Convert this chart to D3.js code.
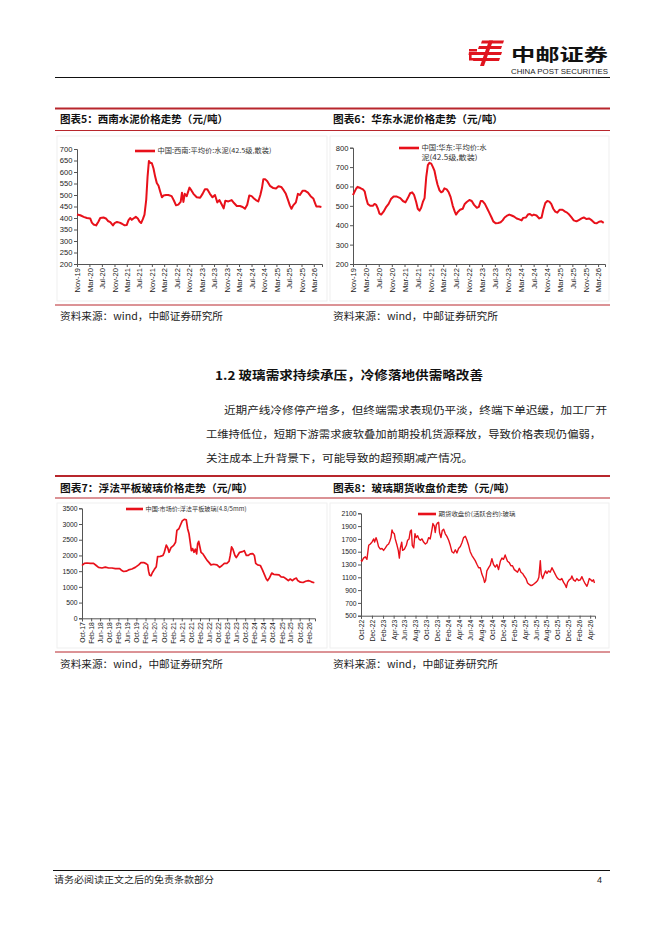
<!DOCTYPE html>
<html><head><meta charset="utf-8">
<script src="https://cdn.jsdelivr.net/npm/d3@7"></script>
<style>
html,body{margin:0;padding:0;background:#fff;}
svg{display:block;}
</style></head>
<body>
<svg id="page" width="662" height="936"></svg>
<script>
// ---------------- DATA ----------------
const chartTitles = ["图表5：西南水泥价格走势（元/吨）","图表6：华东水泥价格走势（元/吨）","图表7：浮法平板玻璃价格走势（元/吨）","图表8：玻璃期货收盘价走势（元/吨）"];
const sourceText = "资料来源：wind，中邮证券研究所";
const legendNames = ["中国:西南:平均价:水泥(42.5级,散装)", ["中国:华东:平均价:水","泥(42.5级,散装)"], "中国:市场价:浮法平板玻璃(4.8/5mm)", "期货收盘价(活跃合约):玻璃"];
const sectionTitle = "1.2 玻璃需求持续承压，冷修落地供需略改善";
const paragraphLines = ["近期产线冷修停产增多，但终端需求表现仍平淡，终端下单迟缓，加工厂开","工维持低位，短期下游需求疲软叠加前期投机货源释放，导致价格表现仍偏弱，","关注成本上升背景下，可能导致的超预期减产情况。"];
const footerText = "请务必阅读正文之后的免责条款部分";
const pageNumber = "4";

const xTicks5 = ["Nov-19","Mar-20","Jul-20","Nov-20","Mar-21","Jul-21","Nov-21","Mar-22","Jul-22","Nov-22","Mar-23","Jul-23","Nov-23","Mar-24","Jul-24","Nov-24","Mar-25","Jul-25","Nov-25","Mar-26"];
const xTicks6 = xTicks5.slice();
const xTicks7 = ["Oct-17","Feb-18","Jun-18","Oct-18","Feb-19","Jun-19","Oct-19","Feb-20","Jun-20","Oct-20","Feb-21","Jun-21","Oct-21","Feb-22","Jun-22","Oct-22","Feb-23","Jun-23","Oct-23","Feb-24","Jun-24","Oct-24","Feb-25","Jun-25","Oct-25","Feb-26"];
const xTicks8 = ["Oct-22","Dec-22","Feb-23","Apr-23","Jun-23","Aug-23","Oct-23","Dec-23","Feb-24","Apr-24","Jun-24","Aug-24","Oct-24","Dec-24","Feb-25","Apr-25","Jun-25","Aug-25","Oct-25","Dec-25","Feb-26","Apr-26"];
const yTicks5 = [200,250,300,350,400,450,500,550,600,650,700];
const yTicks6 = [200,300,400,500,600,700,800];
const yTicks7 = [0,500,1000,1500,2000,2500,3000,3500];
const yTicks8 = [500,700,900,1100,1300,1500,1700,1900,2100];

const cementSW = [["2019-11-01",415],["2019-12-03",412],["2020-01-05",405],["2020-02-06",400],["2020-03-09",398],["2020-03-25",380],["2020-04-10",372],["2020-05-06",368],["2020-05-29",385],["2020-06-15",400],["2020-07-17",402],["2020-08-09",398],["2020-08-29",387],["2020-09-21",382],["2020-10-17",368],["2020-11-02",378],["2020-11-25",383],["2020-12-21",380],["2021-01-13",375],["2021-02-08",368],["2021-03-01",370],["2021-03-17",390],["2021-04-03",400],["2021-04-19",392],["2021-05-05",398],["2021-05-28",405],["2021-06-17",398],["2021-07-03",385],["2021-07-19",378],["2021-08-05",395],["2021-08-21",415],["2021-09-07",480],["2021-09-20",580],["2021-10-03",648],["2021-10-16",640],["2021-11-01",638],["2021-11-17",615],["2021-12-03",580],["2021-12-19",552],["2022-01-05",540],["2022-01-21",515],["2022-02-07",490],["2022-02-23",498],["2022-03-19",500],["2022-04-11",500],["2022-05-13",495],["2022-06-05",475],["2022-06-25",455],["2022-07-17",458],["2022-08-09",470],["2022-08-22",510],["2022-09-05",470],["2022-09-18",505],["2022-10-07",495],["2022-11-03",532],["2022-11-22",520],["2022-12-12",505],["2023-01-13",490],["2023-02-15",488],["2023-03-11",505],["2023-04-03",525],["2023-04-26",525],["2023-05-22",505],["2023-06-16",490],["2023-07-10",500],["2023-08-02",468],["2023-08-22",478],["2023-09-13",460],["2023-10-03",442],["2023-10-19",475],["2023-11-18",472],["2023-12-20",478],["2024-01-12",465],["2024-02-08",452],["2024-03-10",452],["2024-04-05",448],["2024-04-28",440],["2024-05-20",458],["2024-06-09",498],["2024-07-02",495],["2024-07-25",485],["2024-08-13",478],["2024-09-05",472],["2024-09-25",500],["2024-10-11",530],["2024-10-24",568],["2024-11-13",568],["2024-12-02",560],["2024-12-28",540],["2025-01-30",530],["2025-02-25",528],["2025-03-21",538],["2025-04-17",535],["2025-05-12",520],["2025-06-01",505],["2025-06-21",480],["2025-07-10",455],["2025-07-26",440],["2025-08-12",455],["2025-09-07",468],["2025-09-27",505],["2025-10-16",500],["2025-11-11",518],["2025-12-07",518],["2026-01-03",510],["2026-01-29",495],["2026-02-24",485],["2026-03-13",465],["2026-03-26",450],["2026-04-22",450],["2026-05-14",448]];

const cementEC = [["2019-11-01",555],["2019-11-13",570],["2019-12-02",590],["2019-12-14",598],["2020-01-09",592],["2020-02-03",585],["2020-02-19",575],["2020-03-04",540],["2020-03-20",510],["2020-04-11",500],["2020-05-06",500],["2020-05-22",510],["2020-06-07",505],["2020-06-23",485],["2020-07-08",460],["2020-07-24",455],["2020-08-15",470],["2020-09-10",495],["2020-10-02",510],["2020-10-24",535],["2020-11-18",548],["2020-12-19",548],["2021-01-20",540],["2021-02-14",525],["2021-03-10",518],["2021-04-01",540],["2021-04-23",565],["2021-05-12",570],["2021-05-31",555],["2021-06-19",520],["2021-07-04",485],["2021-07-20",475],["2021-08-05",490],["2021-08-21",520],["2021-09-06",540],["2021-09-22",650],["2021-10-07",710],["2021-10-22",722],["2021-11-08",718],["2021-11-24",700],["2021-12-09",680],["2021-12-24",640],["2022-01-06",610],["2022-01-25",580],["2022-02-10",570],["2022-02-26",575],["2022-03-12",590],["2022-04-03",585],["2022-04-22",570],["2022-05-10",545],["2022-05-30",500],["2022-06-18",470],["2022-06-30",455],["2022-07-19",470],["2022-08-07",480],["2022-09-01",485],["2022-09-20",510],["2022-10-09",520],["2022-11-03",530],["2022-11-25",525],["2022-12-17",505],["2023-01-12",490],["2023-01-31",495],["2023-02-18",525],["2023-03-07",525],["2023-03-29",510],["2023-04-21",485],["2023-05-09",465],["2023-05-31",440],["2023-06-16",420],["2023-07-08",410],["2023-08-02",412],["2023-08-24",415],["2023-09-12",425],["2023-10-01",440],["2023-10-20",448],["2023-11-14",455],["2023-12-06",450],["2023-12-28",445],["2024-01-23",435],["2024-02-17",430],["2024-03-09",425],["2024-03-24",438],["2024-04-19",440],["2024-05-08",455],["2024-05-27",458],["2024-06-15",450],["2024-07-03",455],["2024-07-28",450],["2024-08-23",435],["2024-09-14",440],["2024-09-30",480],["2024-10-19",515],["2024-11-07",525],["2024-11-26",522],["2024-12-14",510],["2025-01-02",485],["2025-01-21",470],["2025-02-09",465],["2025-03-04",480],["2025-03-30",480],["2025-04-24",470],["2025-05-12",465],["2025-06-01",455],["2025-06-23",440],["2025-07-14",425],["2025-08-09",420],["2025-09-04",428],["2025-09-26",435],["2025-10-17",440],["2025-11-12",432],["2025-12-07",435],["2026-01-01",425],["2026-01-27",412],["2026-02-14",410],["2026-03-10",418],["2026-04-01",420],["2026-04-23",412]];

const floatGlass = [["2017-10-01",1680],["2017-11-02",1750],["2017-12-07",1760],["2018-01-21",1750],["2018-03-05",1750],["2018-04-10",1680],["2018-05-11",1620],["2018-06-25",1600],["2018-08-10",1630],["2018-09-24",1600],["2018-11-08",1600],["2018-12-22",1580],["2019-02-19",1580],["2019-03-20",1520],["2019-04-12",1490],["2019-05-17",1500],["2019-06-18",1540],["2019-08-02",1570],["2019-09-16",1620],["2019-11-01",1700],["2019-12-02",1770],["2020-01-07",1775],["2020-02-08",1740],["2020-03-01",1700],["2020-03-13",1500],["2020-03-26",1380],["2020-04-14",1350],["2020-05-02",1450],["2020-05-28",1550],["2020-06-24",1640],["2020-07-12",1960],["2020-08-17",1970],["2020-09-22",2000],["2020-10-10",2100],["2020-11-06",2330],["2020-11-24",2250],["2020-12-12",2100],["2021-01-08",2250],["2021-02-13",2320],["2021-03-10",2420],["2021-03-28",2800],["2021-04-24",2850],["2021-05-21",3000],["2021-06-08",3100],["2021-07-05",3150],["2021-08-01",3130],["2021-08-19",2850],["2021-09-06",2700],["2021-09-24",2400],["2021-10-08",2150],["2021-10-25",2220],["2021-11-12",2100],["2021-12-01",2200],["2021-12-18",2050],["2022-01-01",2380],["2022-01-15",2450],["2022-01-28",2300],["2022-02-15",2100],["2022-03-12",2050],["2022-04-08",1950],["2022-05-05",1850],["2022-06-01",1780],["2022-06-28",1700],["2022-08-03",1720],["2022-09-17",1700],["2022-10-23",1620],["2022-11-24",1680],["2022-12-25",1750],["2023-01-31",1750],["2023-02-27",1820],["2023-03-14",2000],["2023-04-01",2270],["2023-04-19",2200],["2023-05-16",2000],["2023-06-03",1930],["2023-06-21",2000],["2023-07-18",2100],["2023-08-23",2120],["2023-09-19",2150],["2023-10-16",2000],["2023-11-12",2000],["2023-12-09",2050],["2024-01-10",2060],["2024-02-01",2000],["2024-02-19",1750],["2024-03-16",1700],["2024-04-21",1680],["2024-05-18",1550],["2024-06-14",1400],["2024-07-10",1250],["2024-07-28",1200],["2024-08-25",1300],["2024-09-21",1440],["2024-10-18",1400],["2024-11-23",1390],["2024-12-28",1380],["2025-01-25",1320],["2025-03-01",1310],["2025-04-05",1250],["2025-05-02",1200],["2025-05-28",1250],["2025-06-25",1200],["2025-07-21",1250],["2025-08-18",1280],["2025-09-05",1200],["2025-10-10",1150],["2025-11-16",1140],["2025-12-21",1180],["2026-01-27",1200],["2026-02-22",1180],["2026-03-19",1150],["2026-04-16",1130]];

const glassFutures = [["2022-10-01",1370],["2022-10-06",1350],["2022-10-15",1400],["2022-10-25",1420],["2022-11-03",1380],["2022-11-13",1600],["2022-11-22",1620],["2022-12-01",1650],["2022-12-11",1700],["2022-12-16",1650],["2022-12-24",1720],["2022-12-29",1680],["2023-01-07",1580],["2023-01-17",1540],["2023-01-26",1550],["2023-02-04",1520],["2023-02-14",1560],["2023-02-23",1600],["2023-03-04",1620],["2023-03-10",1660],["2023-03-17",1720],["2023-03-23",1840],["2023-03-28",1800],["2023-04-05",1780],["2023-04-10",1700],["2023-04-20",1600],["2023-04-27",1520],["2023-05-03",1400],["2023-05-08",1550],["2023-05-16",1650],["2023-05-21",1520],["2023-05-31",1540],["2023-06-11",1600],["2023-06-18",1680],["2023-06-26",1700],["2023-07-03",1820],["2023-07-09",1840],["2023-07-14",1600],["2023-07-22",1560],["2023-07-29",1780],["2023-08-05",1720],["2023-08-13",1750],["2023-08-20",1700],["2023-08-28",1680],["2023-09-06",1700],["2023-09-15",1650],["2023-09-25",1620],["2023-10-04",1640],["2023-10-13",1720],["2023-10-22",1700],["2023-11-01",1850],["2023-11-06",1940],["2023-11-14",1900],["2023-11-19",1800],["2023-11-25",1920],["2023-12-02",1950],["2023-12-08",1960],["2023-12-13",1800],["2023-12-21",1720],["2023-12-28",1830],["2024-01-05",1850],["2024-01-14",1780],["2024-01-23",1740],["2024-02-02",1680],["2024-02-11",1600],["2024-02-20",1500],["2024-03-01",1480],["2024-03-10",1530],["2024-03-19",1480],["2024-03-28",1550],["2024-04-07",1580],["2024-04-16",1640],["2024-04-25",1720],["2024-05-05",1740],["2024-05-14",1680],["2024-05-23",1600],["2024-06-01",1500],["2024-06-11",1440],["2024-06-20",1400],["2024-06-29",1360],["2024-07-09",1300],["2024-07-18",1250],["2024-07-27",1250],["2024-08-05",1150],["2024-08-15",1080],["2024-08-20",1020],["2024-08-26",1050],["2024-09-02",1200],["2024-09-12",1250],["2024-09-21",1290],["2024-09-30",1390],["2024-10-09",1300],["2024-10-19",1260],["2024-10-28",1300],["2024-11-06",1220],["2024-11-16",1350],["2024-11-25",1400],["2024-12-04",1380],["2024-12-13",1450],["2024-12-19",1400],["2024-12-26",1350],["2025-01-05",1330],["2025-01-14",1280],["2025-01-23",1280],["2025-02-02",1220],["2025-02-11",1200],["2025-02-20",1180],["2025-03-02",1240],["2025-03-11",1180],["2025-03-20",1160],["2025-03-29",1120],["2025-04-08",1080],["2025-04-17",1010],["2025-04-26",990],["2025-05-06",970],["2025-05-15",980],["2025-05-24",1000],["2025-06-02",1020],["2025-06-12",1050],["2025-06-19",1100],["2025-06-27",1360],["2025-07-02",1150],["2025-07-10",1080],["2025-07-19",1150],["2025-07-26",1200],["2025-08-03",1160],["2025-08-12",1200],["2025-08-21",1180],["2025-08-31",1250],["2025-09-09",1200],["2025-09-18",1150],["2025-09-27",1100],["2025-10-07",1070],["2025-10-16",1060],["2025-10-25",1080],["2025-11-04",1020],["2025-11-13",980],["2025-11-19",940],["2025-11-26",1020],["2025-12-05",1060],["2025-12-15",1080],["2025-12-20",1120],["2025-12-29",1060],["2026-01-08",1040],["2026-01-17",1080],["2026-01-26",1050],["2026-02-05",1060],["2026-02-14",1110],["2026-02-23",1050],["2026-03-04",1000],["2026-03-14",960],["2026-03-19",1000],["2026-03-27",1080],["2026-04-05",1060],["2026-04-12",1040],["2026-04-20",1060],["2026-04-25",1010]];

// ---------------- DRAW ----------------
const svg = d3.select("#page");
const RED_RULE = "#b8262c";
const LINE_RED = "#e8101a";
const CJK = "'Noto Sans CJK SC','Noto Sans',sans-serif";
const LAT = "'Liberation Sans',Arial,sans-serif";
const parseDay = d3.timeParse("%Y-%m-%d");
const parseTick = d3.timeParse("%b-%y");

function txt(g, s, x, y, opt) {
  const t = g.append("text").attr("x", x).attr("y", y).text(s)
    .attr("font-family", opt.family || CJK)
    .attr("font-size", opt.size || 10)
    .attr("font-weight", opt.weight || "normal")
    .attr("fill", opt.fill || "#111");
  if (opt.len) t.attr("textLength", opt.len).attr("lengthAdjust", "spacingAndGlyphs");
  if (opt.anchor) t.attr("text-anchor", opt.anchor);
  if (opt.ls) t.attr("letter-spacing", opt.ls);
  return t;
}
function hline(x1, x2, y, color, w) {
  svg.append("line").attr("x1", x1).attr("x2", x2).attr("y1", y).attr("y2", y)
    .attr("stroke", color).attr("stroke-width", w);
}

// Header logo
const logo = svg.append("g").attr("fill", "#e0141e");
logo.append("polygon").attr("points", "482,40.5 504,40.5 503,43.5 481,43.5");
logo.append("polygon").attr("points", "479,46 502,46 501,49 478,49");
logo.append("polygon").attr("points", "469,52 502,52 501,55 468.5,55");
logo.append("polygon").attr("points", "474,58 500,58 499,61 473,61");
logo.append("polygon").attr("points", "489,40.5 493,40.5 484,66 480,66");
logo.append("rect").attr("x", 469).attr("y", 49).attr("width", 8).attr("height", 2.5);
logo.append("rect").attr("x", 469).attr("y", 55).attr("width", 2.6).attr("height", 5);
logo.append("rect").attr("x", 469).attr("y", 58).attr("width", 8).attr("height", 2.5);
txt(svg, "中邮证券", 511, 61, {size: 17, weight: "bold", len: 97, fill: "#111"});
txt(svg, "CHINA POST SECURITIES", 511, 73.5, {family: LAT, size: 7.4, len: 97, fill: "#222"});
hline(55, 610, 77.5, "#111", 1);

// Row rules
hline(55, 610, 108.5, RED_RULE, 2.2);
hline(55, 610, 130.5, RED_RULE, 1.2);
hline(55, 610, 305, RED_RULE, 1);
hline(55, 610, 476, RED_RULE, 2.2);
hline(55, 610, 498, RED_RULE, 1.2);
hline(55, 610, 652, RED_RULE, 1);

// Titles
txt(svg, chartTitles[0], 60, 123, {size: 10.5, weight: "bold", len: 168});
txt(svg, chartTitles[1], 333, 123, {size: 10.5, weight: "bold", len: 170});
txt(svg, chartTitles[2], 60, 492, {size: 10.5, weight: "bold", len: 193});
txt(svg, chartTitles[3], 333, 492, {size: 10.5, weight: "bold", len: 182});
txt(svg, sourceText, 60, 320, {size: 10, len: 163, fill: "#222"});
txt(svg, sourceText, 333, 320, {size: 10, len: 165, fill: "#222"});
txt(svg, sourceText, 60, 668, {size: 10, len: 163, fill: "#222"});
txt(svg, sourceText, 333, 668, {size: 10, len: 165, fill: "#222"});

// Chart image frames (faint)
[[57,136,270,165],[330,136,279,165],[57,503,270,145],[330,503,279,145]].forEach(r => {
  svg.append("rect").attr("x", r[0]).attr("y", r[1]).attr("width", r[2]).attr("height", r[3])
    .attr("fill", "none").attr("stroke", "#ececec").attr("stroke-width", 0.8);
});

// Section text
txt(svg, sectionTitle, 215, 379.5, {size: 12, weight: "bold", len: 268, fill: "#111"});
txt(svg, paragraphLines[0], 224, 414, {size: 10.5, len: 383, fill: "#222"});
txt(svg, paragraphLines[1], 206, 438, {size: 10.5, len: 395, fill: "#222"});
txt(svg, paragraphLines[2], 206, 462, {size: 10.5, len: 267, fill: "#222"});

// Footer
hline(53, 610, 870.5, "#111", 1);
txt(svg, footerText, 54, 883, {size: 9, len: 160, fill: "#222"});
txt(svg, pageNumber, 597, 883, {family: LAT, size: 9, fill: "#222"});

function drawChart(cfg) {
  const g = svg.append("g");
  const x = d3.scaleTime().domain(cfg.xDomain.map(parseDay)).range(cfg.xRange);
  const y = d3.scaleLinear().domain(cfg.yDomain).range(cfg.yRange);
  const ya = g.append("g").attr("transform", `translate(${cfg.xRange[0]},0)`)
    .call(d3.axisLeft(y).tickValues(cfg.yTicks).tickSize(3).tickPadding(1.5).tickFormat(d3.format("d")));
  ya.selectAll("text").attr("font-family", LAT).attr("font-size", cfg.fs).attr("fill", "#222");
  ya.select(".domain").attr("stroke", "#555");
  ya.selectAll(".tick line").attr("stroke", "#555");
  const tickDates = cfg.xTicks.map(parseTick);
  const xa = g.append("g").attr("transform", `translate(0,${cfg.yRange[0]})`)
    .call(d3.axisBottom(x).tickValues(tickDates).tickSize(3).tickFormat(d3.timeFormat("%b-%y")));
  xa.select(".domain").attr("stroke", "#555");
  xa.selectAll(".tick line").attr("stroke", "#555");
  xa.selectAll("text").attr("font-family", LAT).attr("font-size", cfg.fs).attr("fill", "#222")
    .attr("transform", "rotate(-90)").attr("text-anchor", "end")
    .attr("x", -4).attr("y", 0).attr("dy", "0.35em");
  const line = d3.line().x(d => x(parseDay(d[0]))).y(d => y(d[1]));
  g.append("path").datum(cfg.data).attr("d", line).attr("fill", "none")
    .attr("stroke", LINE_RED).attr("stroke-width", cfg.sw).attr("stroke-linejoin", "round");
  // legend
  const L = cfg.legend;
  g.append("line").attr("x1", L.x1).attr("x2", L.x2).attr("y1", L.y).attr("y2", L.y)
    .attr("stroke", LINE_RED).attr("stroke-width", 2.6);
  const names = Array.isArray(L.name) ? L.name : [L.name];
  names.forEach((n, i) => txt(g, n, L.x2 + 2.5, L.y + 2.4 + i * 10, {size: L.size, len: L.lens[i], fill: "#333"}));
}

drawChart({data: cementSW, xDomain: ["2019-11-01","2026-05-20"], xRange: [77, 322],
  yDomain: [200, 700], yRange: [264, 149], yTicks: yTicks5, xTicks: xTicks5, fs: 7.6, sw: 2,
  legend: {x1: 135, x2: 155, y: 151, name: legendNames[0], size: 6.8, lens: [114]}});
drawChart({data: cementEC, xDomain: ["2019-11-01","2026-05-05"], xRange: [353, 605],
  yDomain: [200, 800], yRange: [264, 147.7], yTicks: yTicks6, xTicks: xTicks6, fs: 7.6, sw: 2,
  legend: {x1: 399, x2: 419, y: 148, name: legendNames[1], size: 7, lens: [65, 56]}});
drawChart({data: floatGlass, xDomain: ["2017-10-01","2026-04-25"], xRange: [82, 315],
  yDomain: [0, 3500], yRange: [618.3, 508.3], yTicks: yTicks7, xTicks: xTicks7, fs: 6.8, sw: 1.7,
  legend: {x1: 126, x2: 143, y: 509, name: legendNames[2], size: 6.2, lens: [101]}});
drawChart({data: glassFutures, xDomain: ["2022-10-01","2026-04-28"], xRange: [361, 595],
  yDomain: [500, 2100], yRange: [615.7, 513.3], yTicks: yTicks8, xTicks: xTicks8, fs: 6.8, sw: 1.4,
  legend: {x1: 418, x2: 436, y: 514, name: legendNames[3], size: 6.2, lens: [77]}});
</script>
</body></html>
